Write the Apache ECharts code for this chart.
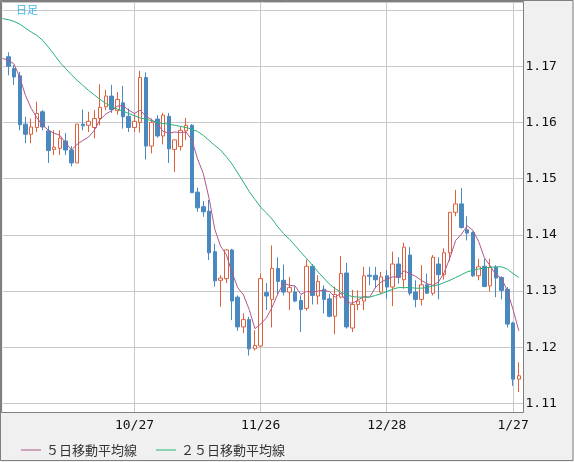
<!DOCTYPE html>
<html><head><meta charset="utf-8">
<script src="https://cdn.jsdelivr.net/npm/echarts@6.0.0/dist/echarts.min.js"></script>
<style>html,body{margin:0;padding:0;background:#f0f0f0;}#c{width:574px;height:462px;}</style>
</head><body><div id="c"></div>
<script>
// ---- data ----
const openP = [1.1717,1.1696,1.1683,1.1597,1.1579,1.1591,1.1619,1.1585,1.1552,1.1554,
1.1567,1.1551,1.1528,1.1597,1.1595,1.1591,1.1607,1.1628,1.1647,1.1621,
1.1635,1.1611,1.1591,1.1600,1.1680,1.1558,1.1606,1.1576,1.1611,1.1552,
1.1557,1.1585,1.1595,1.1476,1.1450,1.1442,1.1370,1.1319,1.1322,1.1373,
1.1289,1.1236,1.1249,1.1197,1.1202,1.1297,1.1285,1.1340,1.1319,1.1298,
1.1298,1.1283,1.1269,1.1344,1.1291,1.1303,1.1286,1.1255,1.1289,1.1332,
1.1234,1.1276,1.1282,1.1328,1.1328,1.1298,1.1327,1.1307,1.1348,1.1320,
1.1364,1.1298,1.1285,1.1311,1.1296,1.1348,1.1329,1.1368,1.1440,1.1455,
1.1409,1.1404,1.1327,1.1344,1.1309,1.1342,1.1324,1.1303,1.1243,1.1143];
const highP = [1.1725,1.1702,1.1690,1.1610,1.1607,1.1637,1.1622,1.1594,1.1586,1.1586,
1.1581,1.1558,1.1597,1.1623,1.1619,1.1622,1.1668,1.1658,1.1667,1.1654,
1.1665,1.1625,1.1616,1.1692,1.1689,1.1607,1.1613,1.1617,1.1617,1.1569,
1.1592,1.1608,1.1597,1.1484,1.1460,1.1462,1.1384,1.1328,1.1374,1.1375,
1.1292,1.1260,1.1254,1.1230,1.1331,1.1314,1.1381,1.1360,1.1347,1.1325,
1.1308,1.1292,1.1356,1.1348,1.1328,1.1310,1.1295,1.1308,1.1362,1.1350,
1.1302,1.1301,1.1343,1.1343,1.1343,1.1334,1.1337,1.1370,1.1360,1.1386,
1.1378,1.1319,1.1346,1.1331,1.1364,1.1360,1.1376,1.1440,1.1480,1.1483,
1.1433,1.1406,1.1357,1.1357,1.1357,1.1346,1.1326,1.1307,1.1245,1.1173];
const lowP = [1.1684,1.1667,1.1586,1.1563,1.1563,1.1583,1.1586,1.1528,1.1542,1.1542,
1.1542,1.1522,1.1528,1.1586,1.1583,1.1572,1.1595,1.1622,1.1617,1.1614,
1.1589,1.1583,1.1583,1.1582,1.1534,1.1545,1.1573,1.1561,1.1528,1.1512,
1.1550,1.1569,1.1475,1.1441,1.1432,1.1355,1.1308,1.1272,1.1314,1.1248,
1.1229,1.1225,1.1185,1.1194,1.1200,1.1266,1.1235,1.1295,1.1292,1.1266,
1.1280,1.1227,1.1265,1.1276,1.1276,1.1260,1.1253,1.1223,1.1287,1.1233,
1.1227,1.1266,1.1266,1.1310,1.1305,1.1295,1.1286,1.1273,1.1313,1.1304,
1.1292,1.1271,1.1274,1.1295,1.1292,1.1285,1.1320,1.1353,1.1433,1.1411,
1.1390,1.1325,1.1319,1.1307,1.1299,1.1289,1.1285,1.1235,1.1131,1.1120];
const closeP = [1.1700,1.1681,1.1596,1.1579,1.1592,1.1616,1.1592,1.1550,1.1556,1.1572,
1.1551,1.1528,1.1597,1.1594,1.1602,1.1607,1.1627,1.1647,1.1623,1.1641,
1.1610,1.1591,1.1602,1.1680,1.1558,1.1600,1.1576,1.1613,1.1553,1.1569,
1.1586,1.1595,1.1475,1.1448,1.1441,1.1368,1.1318,1.1323,1.1373,1.1282,
1.1236,1.1249,1.1197,1.1203,1.1322,1.1291,1.1340,1.1317,1.1298,1.1306,
1.1282,1.1267,1.1344,1.1292,1.1317,1.1285,1.1255,1.1294,1.1331,1.1236,
1.1276,1.1282,1.1327,1.1326,1.1320,1.1325,1.1307,1.1348,1.1324,1.1378,
1.1296,1.1285,1.1311,1.1296,1.1360,1.1329,1.1368,1.1440,1.1455,1.1413,
1.1403,1.1327,1.1343,1.1308,1.1342,1.1323,1.1301,1.1241,1.1143,1.1149];
// moving averages, first value belongs to the day before the first candle (at the left edge)
const ma5 = [1.1714,1.1711,1.1704,1.1680,1.1648,1.1625,1.1608,
1.1595,1.1586,1.1581,1.1577,1.1564,1.1551,1.1561,1.1568,1.1574,1.1586,
1.1605,1.1615,1.1621,1.1629,1.1630,1.1622,1.1616,1.1622,1.1611,1.1605,
1.1597,1.1584,1.1581,1.1583,1.1582,1.1583,1.1569,1.1535,1.1509,1.1465,
1.1410,1.1380,1.1365,1.1333,1.1306,1.1293,1.1267,1.1233,1.1241,1.1252,
1.1271,1.1295,1.1314,1.1310,1.1309,1.1294,1.1299,1.1298,1.1300,1.1301,
1.1299,1.1289,1.1296,1.1280,1.1278,1.1284,1.1290,1.1289,1.1306,1.1316,
1.1321,1.1325,1.1325,1.1336,1.1331,1.1326,1.1319,1.1313,1.1310,1.1316,
1.1333,1.1359,1.1390,1.1401,1.1416,1.1408,1.1388,1.1359,1.1345,1.1329,
1.1323,1.1300,1.1267,1.1229];
const ma25 = [1.1785,1.1783,1.1780,1.1775,1.1768,1.1761,1.1755,1.1746,1.1734,1.1721,
1.1707,1.1696,1.1685,1.1675,1.1666,1.1657,1.1649,1.1641,1.1634,1.1628,
1.1624,1.1620,1.1616,1.1612,1.1608,1.1606,1.1603,1.1600,1.1598,1.1597,
1.1595,1.1593,1.1591,1.1588,1.1584,1.1577,1.1568,1.1559,1.1551,1.1539,
1.1526,1.1510,1.1494,1.1477,1.1463,1.1449,1.1439,1.1428,1.1414,1.1402,
1.1392,1.1381,1.1369,1.1358,1.1346,1.1334,1.1323,1.1312,1.1304,1.1298,
1.1293,1.1290,1.1289,1.1289,1.1289,1.1292,1.1295,1.1299,1.1303,1.1306,
1.1306,1.1306,1.1305,1.1305,1.1306,1.1309,1.1311,1.1315,1.1319,1.1324,
1.1329,1.1334,1.1337,1.1339,1.1341,1.1342,1.1343,1.1343,1.1339,1.1331,1.1324];
const tickIdx = [22, 44, 66, 88];
const tickLabels = ['10/27', '11/26', '12/28', '1/27'];
const yShown = [1.11, 1.12, 1.13, 1.14, 1.15, 1.16, 1.17];
const seriesNames = ['５日移動平均線', '２５日移動平均線'];
const periodLabel = '日足';

// ---- chart ----
const UP = '#e0603c', DOWN = '#4a89c0', C5 = '#b0578b', C25 = '#27b277';
const chart = echarts.init(document.getElementById('c'), null, {renderer: 'canvas'});
const candles = openP.map((o, i) => [i, o, closeP[i], lowP[i], highP[i]]);
const monoFont = '"DejaVu Sans Mono", "Liberation Mono", monospace';
chart.setOption({
  animation: false,
  backgroundColor: '#f0f0f0',
  grid: {left: 2, top: 2, right: 50.5, bottom: 50, show: true, backgroundColor: '#ffffff', borderWidth: 0},
  xAxis: {
    type: 'value', min: -0.922, max: 89.82, splitNumber: 4, minInterval: 22, maxInterval: 22,
    axisLine: {show: false}, axisTick: {show: false}, splitLine: {show: false},
    axisLabel: {margin: 7, fontFamily: monoFont, fontSize: 13, color: '#111',
      formatter: v => { const k = tickIdx.indexOf(Math.round(v)); return (k >= 0 && Math.abs(v - Math.round(v)) < 1e-6) ? tickLabels[k] : ''; }}
  },
  yAxis: {
    type: 'value', position: 'right', min: 1.108451, max: 1.181448, splitNumber: 7,
    minInterval: 0.01, maxInterval: 0.01,
    axisLine: {show: false}, axisTick: {show: false},
    splitLine: {show: true, lineStyle: {color: '#c8c8c8', width: 1}},
    axisLabel: {margin: 2, fontFamily: monoFont, fontSize: 13, color: '#111',
      formatter: v => { const hit = yShown.find(t => Math.abs(t - v) < 1e-6); return hit !== undefined ? hit.toFixed(2) : ''; }}
  },
  legend: {
    left: 16, top: 438.5, itemWidth: 20, itemHeight: 1, itemGap: 19, selectedMode: false,
    data: seriesNames.map(n => ({name: n, icon: 'rect'})),
    textStyle: {fontSize: 13, color: '#333', fontFamily: '"Noto Sans CJK JP"'}
  },
  series: [
    {type: 'candlestick', name: 'price', data: candles, barWidth: 4, z: 2,
     itemStyle: {color: '#ffffff', color0: DOWN, borderColor: UP, borderColor0: DOWN, borderWidth: 1}},
    {type: 'line', name: seriesNames[0], data: ma5.map((v, k) => [k - 1, v]), showSymbol: false, symbol: 'none', z: 3,
     lineStyle: {width: 1, color: C5}, itemStyle: {color: C5}},
    {type: 'line', name: seriesNames[1], data: ma25.map((v, k) => [k - 1, v]), showSymbol: false, symbol: 'none', z: 4,
     lineStyle: {width: 1, color: C25}, itemStyle: {color: C25}}
  ]
});
// vertical grid lines at labelled dates, placed through the x axis scale
const vlines = tickIdx.map(t => {
  const px = Math.round(chart.convertToPixel({xAxisIndex: 0}, t) - 0.5) + 0.5;
  return {type: 'line', z: 1, silent: true, shape: {x1: px, y1: 2, x2: px, y2: 412},
          style: {stroke: '#c8c8c8', lineWidth: 1}};
});
chart.setOption({
  graphic: [
    ...vlines,
    {type: 'rect', z: 100, silent: true, shape: {x: 1.5, y: 1.5, width: 522, height: 411},
     style: {fill: 'none', stroke: '#7f7f7f', lineWidth: 1}},
    {type: 'rect', z: 100, silent: true, shape: {x: 0.5, y: 0.5, width: 572.5, height: 460},
     style: {fill: 'none', stroke: '#7f7f7f', lineWidth: 1}},
    {type: 'text', z: 100, left: 16, top: 4, silent: true,
     style: {text: periodLabel, font: '11px "Noto Sans CJK JP"', fill: '#45b5e8'}}
  ]
});
</script></body></html>
